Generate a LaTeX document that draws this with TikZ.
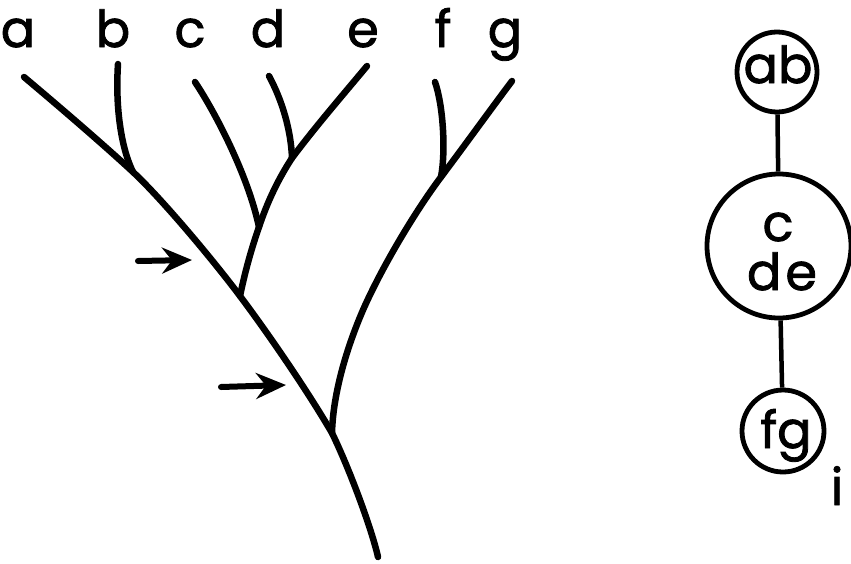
\documentclass[tikz,border=0pt]{standalone}
\usepackage{fontspec}
\setmainfont{Poppins}
\newfontfamily\lettering{Poppins}[FakeBold=1.6]
\usetikzlibrary{arrows.meta}
\begin{document}
\begin{tikzpicture}[x=1pt,y=-1pt,
  branch/.style={line width=6.5pt, line cap=round, line join=round},
  taxon/.style={font=\lettering\fontsize{51}{51}\selectfont, anchor=base, inner sep=0pt},
  grp/.style={circle, draw, line width=4.8pt, minimum size=#1, inner sep=0pt},
  link/.style={line width=4.5pt},
  pointer/.style={line width=6pt, line cap=round, -{Stealth[length=30pt,width=26pt,inset=10pt]}}]
\useasboundingbox (0,0) rectangle (851,563);

% taxon labels
\node[taxon] (la) at (18,47) {a};
\node[taxon] (lb) at (113,47) {b};
\node[taxon] (lc) at (190,47) {c};
\node[taxon] (ld) at (268,47) {d};
\node[taxon] (le) at (363,47) {e};
\node[taxon] (lf) at (443,47) {f};
\node[taxon] (lg) at (505,47) {g};

% tips, branching points and root
\coordinate (ta) at (24,77);
\coordinate (tb) at (118,64);
\coordinate (tc) at (195,82);
\coordinate (td) at (269,76);
\coordinate (te) at (367,66);
\coordinate (tf) at (435,82);
\coordinate (tg) at (512,81);
\coordinate (jab) at (133,172);
\coordinate (jde) at (292,158);
\coordinate (jcde) at (259,227);
\coordinate (jtrunk) at (240,296);
\coordinate (jfg) at (441,177);
\coordinate (jg) at (363,310);
\coordinate (jall) at (332,433);
\coordinate (root) at (378,557);

% main stem from a down to the root
\draw[branch] (ta) .. controls (55,103) and (104,145) .. (jab)
  .. controls (162,199) and (213,260) .. (jtrunk)
  .. controls (267,332) and (307,390) .. (jall)
  .. controls (350,470) and (372,530) .. (root);
% side branches
\draw[branch] (tb) .. controls (115,110) and (122,150) .. (jab);
\draw[branch] (tc) .. controls (215,112) and (248,175) .. (jcde);
\draw[branch] (td) .. controls (282,100) and (291,130) .. (jde);
\draw[branch] (te) .. controls (342,96) and (316,126) .. (jde)
  .. controls (279,178) and (268,200) .. (jcde)
  .. controls (251,250) and (245,272) .. (jtrunk);
\draw[branch] (tf) .. controls (443,105) and (446,150) .. (jfg);
\draw[branch] (tg) .. controls (488,113) and (465,145) .. (jfg)
  .. controls (414,213) and (381,269) .. (jg)
  .. controls (347,347) and (333,393) .. (jall);

% arrows marking two internal branches
\coordinate (p1s) at (138,261);
\coordinate (p1e) at (192,260);
\coordinate (p2s) at (221,387);
\coordinate (p2e) at (286,385);
\draw[pointer] (p1s) -- (p1e);
\draw[pointer] (p2s) -- (p2e);

% clique graph
\node[grp=80pt] (ab) at (777,72) {};
\node[grp=144pt] (cde) at (779,246) {};
\node[grp=82pt] (fg) at (783,431) {};
\draw[link] (ab) -- (cde);
\draw[link] (cde) -- (fg);
\node[taxon] (tab) at (778,83) {ab};
\node[taxon] (tcc) at (778,241) {c};
\node[taxon] (tde) at (782,290) {d\kern4pt e};
\node[taxon] (tfg) at (786,448) {fg};
\node[taxon] (ti) at (837,505) {i};
\end{tikzpicture}
\end{document}
